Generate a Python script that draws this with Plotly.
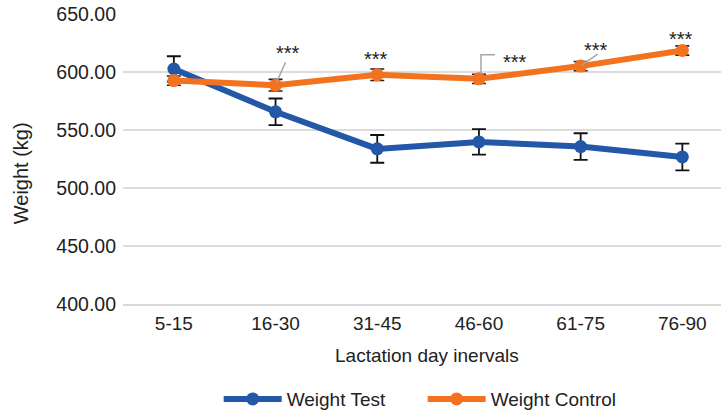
import plotly.graph_objects as go

# Lactation intervals (days)
intervals = ["5-15", "16-30", "31-45", "46-60", "61-75", "76-90"]

# Mean body weight (kg) and error (kg) per interval
weight_test = [603, 566, 534, 540, 536, 527]
err_test = [11, 11.5, 12, 11, 11.5, 11.5]
weight_control = [593, 589, 598, 594.5, 605.5, 619]
err_control = [4, 5, 5, 4, 4, 4]

# Significance flags shown above the control series
sig_marks = ["", "***", "***", "***", "***", "***"]

y_ticks = [400, 450, 500, 550, 600, 650]

BLUE = "#2357a8"
ORANGE = "#f3721f"
TEXT = "#222222"
FONT = "Liberation Sans, Arial, sans-serif"

fig = go.Figure()

fig.add_trace(go.Scatter(
    x=intervals, y=weight_test, name="Weight Test",
    mode="lines+markers",
    line=dict(color=BLUE, width=6),
    marker=dict(color=BLUE, size=13, symbol="circle"),
    error_y=dict(type="data", array=err_test, color="#111111", thickness=1.8, width=7),
))
fig.add_trace(go.Scatter(
    x=intervals, y=weight_control, name="Weight Control",
    mode="lines+markers",
    line=dict(color=ORANGE, width=6),
    marker=dict(color=ORANGE, size=13, symbol="circle"),
    error_y=dict(type="data", array=err_control, color="#222222", thickness=1.6, width=7),
))

# "***" labels placed relative to each control point (pixel offsets)
label_offsets = {1: (12, -36), 2: (-1, -20), 3: (36, -21), 4: (15, -20), 5: (-1, -15)}
for i, (cat, val, mark) in enumerate(zip(intervals, weight_control, sig_marks)):
    if not mark:
        continue
    dx, dy = label_offsets[i]
    fig.add_annotation(
        x=cat, y=val, xref="x", yref="y", text=mark, showarrow=False,
        xshift=dx, yshift=-dy - 4,
        font=dict(family=FONT, size=20, color=TEXT),
    )

# leader lines from the flags to their points (pixel offsets, y up)
leader_paths = {
    1: [(1, 3), (10, 23)],
    3: [(2, 5), (2, 24), (16, 24)],
    4: [(1, 1), (17, 12)],
}
for i, pts in leader_paths.items():
    path = " ".join(
        f"{'M' if k == 0 else 'L'} {px},{py}" for k, (px, py) in enumerate(pts)
    )
    fig.add_shape(
        type="path", xref="x", yref="y",
        xsizemode="pixel", ysizemode="pixel",
        xanchor=i, yanchor=weight_control[i],
        path=path,
        line=dict(color="#a6a6a6", width=1.5),
    )

fig.update_layout(
    width=721, height=416,
    margin=dict(l=123, r=0, t=14, b=112, autoexpand=False),
    paper_bgcolor="white", plot_bgcolor="white",
    font=dict(family=FONT, size=19, color=TEXT),
    showlegend=True,
    legend=dict(
        orientation="h", x=0.16, y=-0.328, xanchor="left", yanchor="middle",
        itemwidth=58, entrywidth=131, font=dict(size=19, color=TEXT),
        bgcolor="rgba(0,0,0,0)",
    ),
)

fig.update_xaxes(
    type="category", range=[-0.5, 5.38],
    showgrid=False, showline=True, linecolor="#d9d9d9", linewidth=2,
    ticks="", tickfont=dict(size=19, color=TEXT), ticklabelstandoff=1,
)
fig.update_yaxes(
    range=[400, 650.5], tickvals=y_ticks, tickformat=".2f",
    showgrid=True, gridcolor="#dcdcdc", gridwidth=2,
    zeroline=False, showline=False,
    tickfont=dict(size=19.5, color=TEXT), ticklabelstandoff=6,
)

# Axis titles
fig.add_annotation(
    text="Lactation day inervals", xref="paper", yref="paper",
    x=0.508, y=-0.179, showarrow=False, xanchor="center", yanchor="middle",
    font=dict(family=FONT, size=19, color=TEXT),
)
fig.add_annotation(
    text="Weight (kg)", xref="paper", yref="paper",
    x=-0.171, y=0.45, showarrow=False, textangle=-90,
    xanchor="center", yanchor="middle",
    font=dict(family=FONT, size=20, color=TEXT),
)

fig.write_html("out.html")
